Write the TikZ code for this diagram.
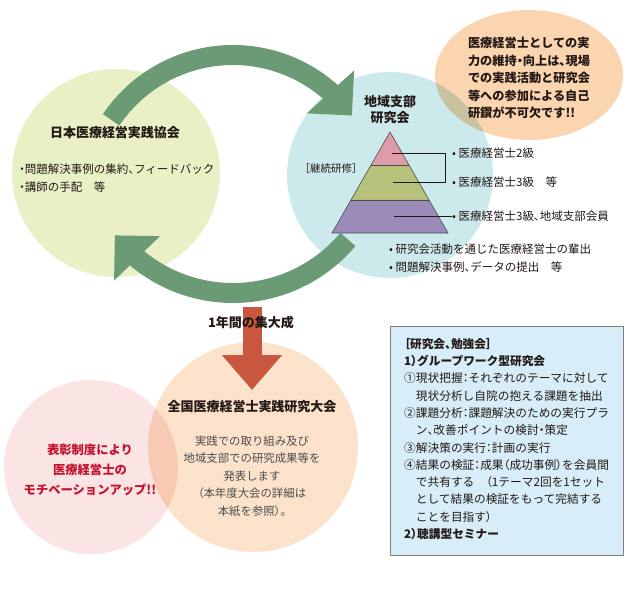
\documentclass[tikz,border=0pt]{standalone}
\usepackage{fontspec}
\setmainfont{Noto Sans CJK JP}
\newfontfamily\palfont{Noto Sans CJK JP}[RawFeature=+palt]
\newcommand{\halfp}[1]{{\palfont #1}}
\usepackage{xcolor}
\usepackage{tikz}
\usetikzlibrary{arrows.meta, bending, calc, shapes.geometric}

\definecolor{ink}{HTML}{231815}
\definecolor{greytext}{HTML}{4D4D4D}
\definecolor{kyokaifill}{HTML}{E9F0C6}
\definecolor{shibufill}{HTML}{CCE9EC}
\definecolor{calloutfill}{HTML}{FAD5AF}
\definecolor{taikaifill}{HTML}{FCE2CA}
\definecolor{hyoshofill}{HTML}{FBE4E4}
\definecolor{flowgreen}{HTML}{6B9B74}
\definecolor{sumred}{HTML}{C9573F}
\definecolor{boxfill}{HTML}{D7EEF9}
\definecolor{tierA}{HTML}{DE9CA8}
\definecolor{tierB}{HTML}{B6C27C}
\definecolor{tierC}{HTML}{9B8BB8}
\definecolor{praise}{HTML}{C4122F}

\begin{document}
\begin{tikzpicture}[
    x=1pt, y=-1pt,
    disc/.style={circle, minimum size=#1, inner sep=0pt},
    flow/.style={draw=flowgreen, line width=20pt, -{Triangle[length=32pt, width=62pt]}},
    sum/.style={draw=sumred, line width=19pt, -{Triangle[length=35pt, width=58pt]}},
    title/.style={font=\fontsize{13}{16}\selectfont\bfseries, text=ink, align=center},
    body/.style={font=\fontsize{11.5}{18}\selectfont, text=ink, align=left, inner sep=0pt},
    tier/.style={draw=black!70, line width=0.6pt},
    lead/.style={draw=ink, line width=0.7pt}
  ]
  \useasboundingbox (0,0) rectangle (630,600);

  % circles
  \begin{scope}[blend mode=multiply]
    \node[disc=208pt, fill=kyokaifill] (kyokai) at (116,173) {};
    \node[disc=206pt, fill=shibufill] (shibu) at (390,175) {};
    \node[ellipse, minimum width=188pt, minimum height=130pt, inner sep=0pt, fill=calloutfill] (callout) at (529,75) {};
    \node[disc=174pt, fill=hyoshofill] (hyosho) at (91,467) {};
    \node[disc=210pt, fill=taikaifill] (taikai) at (253,447) {};
  \end{scope}

  % cycle arrows
  \coordinate (cycA) at (233,202);
  \coordinate (cycB) at (233,143);
  \draw[flow] ($(cycA)+(-146:147)$) arc[start angle=-146, end angle=-36, radius=147];
  \draw[flow] ($(cycB)+(40:150)$) arc[start angle=40, end angle=142, radius=150];

  \coordinate (sumA) at (252,307);
  \coordinate (sumB) at (252,390);
  \draw[sum] (sumA) -- (sumB);
  \node[title] (year) at (251,323) {1年間の集大成};

  % pyramid
  \coordinate (apex) at (390,132);
  \coordinate (bl) at (332,233);
  \coordinate (br) at (448,233);
  \coordinate (l1) at ($(apex)!0.327!(bl)$);
  \coordinate (r1) at ($(apex)!0.327!(br)$);
  \coordinate (l2) at ($(apex)!0.673!(bl)$);
  \coordinate (r2) at ($(apex)!0.673!(br)$);
  \fill[tierA] (apex) -- (r1) -- (l1) -- cycle;
  \fill[tierB] (l1) -- (r1) -- (r2) -- (l2) -- cycle;
  \fill[tierC] (l2) -- (r2) -- (br) -- (bl) -- cycle;
  \draw[tier] (apex) -- (br) -- (bl) -- cycle;
  \draw[tier] (l1) -- (r1) (l2) -- (r2);

  \node[body, anchor=west] (lvA) at (452,153) {•\ 医療経営士2級};
  \node[body, anchor=west] (lvB) at (452,182) {•\ 医療経営士3級　等};
  \node[body, anchor=west] (lvC) at (452,216) {•\ 医療経営士3級\halfp{、}地域支部会員};
  \coordinate (tA) at (392,153);
  \coordinate (tB) at (393,182);
  \coordinate (tC) at (394,216);
  \draw[lead] (tA) -- (tA -| 445,0) |- (tB);
  \draw[lead] (tC) -- (tC -| lvC.west);

  % texts
  \node[title] (kyokaiT) at (115,133) {日本医療経営実践協会};
  \node[body, anchor=west] (kyokaiB) at (19,178)
    {\halfp{・}問題解決事例の集約\halfp{、}フィードバック\\\halfp{・}講師の手配　等};

  \node[title] (shibuT) at (390,110) {地域支部\\研究会};
  \node[body, font=\fontsize{10.5}{14}\selectfont] (keizoku) at (331,169) {\halfp{［}継続研修\halfp{］}};
  \node[body, anchor=west] (shibuB) at (389,258)
    {•\ 研究会活動を通じた医療経営士の輩出\\•\ 問題解決事例\halfp{、}データの提出　等};

  \node[body, font=\fontsize{12.2}{17.5}\selectfont\bfseries] (calloutT) at (529,78)
    {医療経営士としての実\\力の維持\halfp{・}向上は\halfp{、}現場\\での実践活動と研究会\\等への参加による自己\\研鑽が不可欠です!!};

  \node[title] (taikaiT) at (252,407) {全国医療経営士実践研究大会};
  \node[body, align=center, text=greytext, font=\fontsize{11.4}{17.5}\selectfont] (taikaiB) at (252,476)
    {実践での取り組み及び\\地域支部での研究成果等を\\発表します\\\halfp{（}本年度大会の詳細は\\本紙を参照\halfp{）。}};

  \node[body, align=center, text=praise, font=\fontsize{12.3}{20}\selectfont\bfseries] (hyoshoT) at (90,470)
    {表彰制度により\\医療経営士の\\モチベーションアップ!!};

  % study group box
  \node[draw=black!50, line width=1.2pt, fill=boxfill, minimum width=233pt, minimum height=229pt,
        anchor=north west, inner sep=0pt] (study) at (390,326) {};
  \node[body, anchor=north west, font=\fontsize{11.7}{17.3}\selectfont] (studyT) at (404,338)
    {\textbf{\halfp{［}研究会\halfp{、}勉強会\halfp{］}}\\
     \textbf{1\halfp{）}グループワーク型研究会}\\
     ①現状把握\halfp{：}それぞれのテーマに対して\\
     \hspace*{1em}現状分析し自院の抱える課題を抽出\\
     ②課題分析\halfp{：}課題解決のための実行プラ\\
     \hspace*{1em}ン\halfp{、}改善ポイントの検討\halfp{・}策定\\
     ③解決策の実行\halfp{：}計画の実行\\
     ④結果の検証\halfp{：}成果\halfp{（}成功事例\halfp{）}を会員間\\
     \hspace*{1em}で共有する　\halfp{（}1テーマ2回を1セット\\
     \hspace*{1em}として結果の検証をもって完結する\\
     \hspace*{1em}ことを目指す\halfp{）}\\
     \textbf{2\halfp{）}聴講型セミナー}};
\end{tikzpicture}
\end{document}
